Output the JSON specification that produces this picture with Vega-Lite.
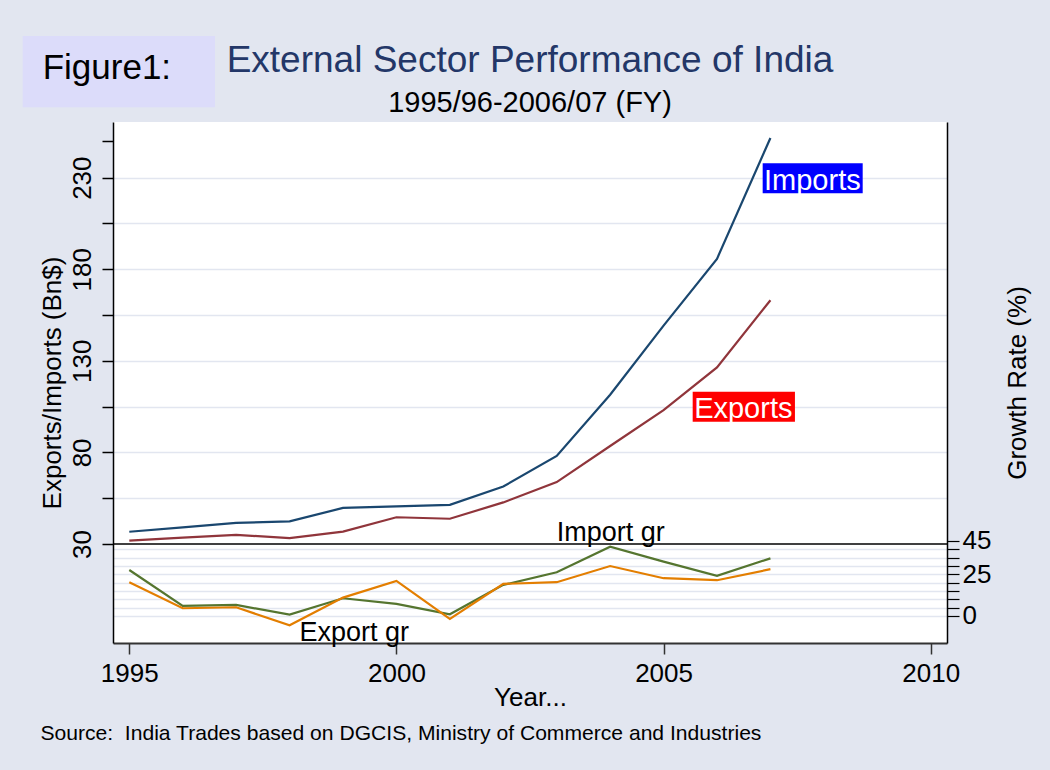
{
  "$schema": "https://vega.github.io/schema/vega-lite/v6.json",
  "width": 834,
  "height": 521,
  "autosize": {"type": "none"},
  "padding": {"left": 113, "top": 122, "right": 103, "bottom": 127},
  "background": "#e2e6f0",
  "data": {
    "values": [
      {"year": 1995, "imports": 36.7, "exports": 31.8, "import_gr": 27.5, "export_gr": 20.2},
      {"year": 1996, "imports": 39.1, "exports": 33.5, "import_gr": 6.0, "export_gr": 4.6},
      {"year": 1997, "imports": 41.5, "exports": 35.0, "import_gr": 6.6, "export_gr": 5.2},
      {"year": 1998, "imports": 42.4, "exports": 33.2, "import_gr": 0.8, "export_gr": -5.6},
      {"year": 1999, "imports": 49.7, "exports": 36.8, "import_gr": 10.6, "export_gr": 11.0},
      {"year": 2000, "imports": 50.5, "exports": 44.6, "import_gr": 7.2, "export_gr": 21.0},
      {"year": 2001, "imports": 51.4, "exports": 43.8, "import_gr": 1.0, "export_gr": -1.8},
      {"year": 2002, "imports": 61.4, "exports": 52.7, "import_gr": 18.6, "export_gr": 19.2},
      {"year": 2003, "imports": 78.1, "exports": 63.8, "import_gr": 26.2, "export_gr": 20.2},
      {"year": 2004, "imports": 111.5, "exports": 83.5, "import_gr": 41.5, "export_gr": 29.9},
      {"year": 2005, "imports": 149.2, "exports": 103.1, "import_gr": 32.5, "export_gr": 22.6},
      {"year": 2006, "imports": 185.7, "exports": 126.4, "import_gr": 24.0, "export_gr": 21.4},
      {"year": 2007, "imports": 251.7, "exports": 163.1, "import_gr": 34.5, "export_gr": 28.0}
    ]
  },
  "layer": [
    {
      "layer": [
        {
          "mark": {"type": "line", "color": "#1a476f", "strokeWidth": 2.2},
          "encoding": {
            "x": {
              "field": "year", "type": "quantitative", "title": "Year...",
              "scale": {"domain": [1994.695, 2010.305], "nice": false, "zero": false},
              "axis": {
                "title": "Year...", "values": [1995, 2000, 2005, 2010], "format": "d", "grid": false,
                "tickSize": 11, "tickColor": "#333333", "tickWidth": 1.5,
                "domainColor": "#333333", "domainWidth": 2,
                "labelFontSize": 26, "labelPadding": 6, "titleFontSize": 26, "titlePadding": -2,
                "labelFlush": false, "labelOverlap": false
              }
            },
            "y": {
              "field": "imports", "type": "quantitative", "title": "Exports/Imports (Bn$)",
              "scale": {"domain": [-24.05, 260.4], "nice": false, "zero": false},
              "axis": {
                "title": "Exports/Imports (Bn$)",
                "values": [30, 55, 80, 105, 130, 155, 180, 205, 230, 250],
                "labelExpr": "datum.value % 50 == 30 ? datum.label : ''",
                "labelAngle": 270, "labelAlign": "center", "labelBaseline": "alphabetic",
                "labelPadding": 12, "labelFontSize": 26,
                "tickSize": 11, "tickWidth": 1.5, "tickColor": "#000000",
                "domainColor": "#000000", "domainWidth": 1.5,
                "grid": true, "gridColor": "#e2e6f0", "gridWidth": 1.5,
                "gridOpacity": {"condition": {"test": "datum.value >= 250 || datum.value <= 30", "value": 0}, "value": 1},
                "titleFontSize": 26, "titlePadding": 4,
                "labelFlush": false, "labelOverlap": false
              }
            }
          }
        },
        {
          "mark": {"type": "line", "color": "#90353b", "strokeWidth": 2.2},
          "encoding": {
            "x": {"field": "year", "type": "quantitative", "title": "Year..."},
            "y": {"field": "exports", "type": "quantitative", "title": "Exports/Imports (Bn$)"}
          }
        },
        {
          "data": {"values": [{}]},
          "mark": {"type": "rule", "color": "#000000", "strokeWidth": 1.5},
          "encoding": {"y": {"datum": 30, "type": "quantitative"}}
        },
        {
          "data": {"values": [{}]},
          "mark": {"type": "rect", "color": "#0000ff"},
          "encoding": {
            "x": {"datum": 2006.855, "type": "quantitative"},
            "x2": {"datum": 2008.727},
            "y": {"datum": 237.86, "type": "quantitative"},
            "y2": {"datum": 221.48}
          }
        },
        {
          "data": {"values": [{}]},
          "mark": {"type": "text", "text": "Imports", "font": "Liberation Sans", "fontSize": 29, "color": "#ffffff", "align": "center", "baseline": "alphabetic"},
          "encoding": {
            "x": {"datum": 2007.785, "type": "quantitative"},
            "y": {"datum": 223.28, "type": "quantitative"}
          }
        },
        {
          "data": {"values": [{}]},
          "mark": {"type": "rect", "color": "#ff0000"},
          "encoding": {
            "x": {"datum": 2005.545, "type": "quantitative"},
            "x2": {"datum": 2007.459},
            "y": {"datum": 113.16, "type": "quantitative"},
            "y2": {"datum": 96.78}
          }
        },
        {
          "data": {"values": [{}]},
          "mark": {"type": "text", "text": "Exports", "font": "Liberation Sans", "fontSize": 29, "color": "#ffffff", "align": "center", "baseline": "alphabetic"},
          "encoding": {
            "x": {"datum": 2006.492, "type": "quantitative"},
            "y": {"datum": 98.96, "type": "quantitative"}
          }
        },
        {
          "data": {"values": [{}]},
          "mark": {"type": "rect", "color": "#dcdcfa"},
          "encoding": {
            "x": {"datum": 1993.005, "type": "quantitative"},
            "x2": {"datum": 1996.604},
            "y": {"datum": 307.37, "type": "quantitative"},
            "y2": {"datum": 268.44}
          }
        },
        {
          "data": {"values": [{}]},
          "mark": {"type": "text", "text": "Figure1:", "font": "Liberation Sans", "fontSize": 35, "color": "#000000", "align": "left", "baseline": "alphabetic"},
          "encoding": {
            "x": {"datum": 1993.379, "type": "quantitative"},
            "y": {"datum": 283.73, "type": "quantitative"}
          }
        },
        {
          "data": {"values": [{}]},
          "mark": {"type": "text", "text": "External Sector Performance of India", "font": "Liberation Sans", "fontSize": 37, "color": "#233768", "align": "center", "baseline": "alphabetic"},
          "encoding": {
            "x": {"datum": 2002.5, "type": "quantitative"},
            "y": {"datum": 287.88, "type": "quantitative"}
          }
        },
        {
          "data": {"values": [{}]},
          "mark": {"type": "text", "text": "1995/96-2006/07 (FY)", "font": "Liberation Sans", "fontSize": 29, "color": "#000000", "align": "center", "baseline": "alphabetic"},
          "encoding": {
            "x": {"datum": 2002.5, "type": "quantitative"},
            "y": {"datum": 266.04, "type": "quantitative"}
          }
        },
        {
          "data": {"values": [{}]},
          "mark": {"type": "text", "text": "Source: \u00a0India Trades based on DGCIS, Ministry of Commerce and Industries", "font": "Liberation Sans", "fontSize": 21.1, "color": "#000000", "align": "left", "baseline": "alphabetic"},
          "encoding": {
            "x": {"datum": 1993.336, "type": "quantitative"},
            "y": {"datum": -77.0, "type": "quantitative"}
          }
        }
      ]
    },
    {
      "layer": [
        {
          "mark": {"type": "line", "color": "#55752f", "strokeWidth": 2.2},
          "encoding": {
            "x": {"field": "year", "type": "quantitative", "title": "Year..."},
            "y": {
              "field": "import_gr", "type": "quantitative", "title": "Growth Rate (%)",
              "scale": {"domain": [-16.2, 295.8], "nice": false, "zero": false},
              "axis": {
                "orient": "right", "title": "Growth Rate (%)",
                "values": [0, 5, 10, 15, 20, 25, 30, 35, 40, 45],
                "labelExpr": "datum.value == 0 || datum.value == 25 || datum.value == 45 ? datum.label : ''",
                "labelAngle": 0, "labelAlign": "left", "labelBaseline": "middle",
                "labelPadding": 3, "labelFontSize": 26,
                "tickSize": 12, "tickColor": "#000000", "tickWidth": 1.2,
                "domainColor": "#000000", "domainWidth": 1.5,
                "grid": true, "gridColor": "#e2e6f0", "gridWidth": 1.5,
                "gridOpacity": {"condition": {"test": "datum.value > 40", "value": 0}, "value": 1},
                "titleAngle": 270, "titleBaseline": "top", "titlePadding": 14, "titleFontSize": 26,
                "labelFlush": false, "labelOverlap": false
              }
            }
          }
        },
        {
          "mark": {"type": "line", "color": "#e37e00", "strokeWidth": 2.2},
          "encoding": {
            "x": {"field": "year", "type": "quantitative", "title": "Year..."},
            "y": {"field": "export_gr", "type": "quantitative", "title": "Growth Rate (%)"}
          }
        },
        {
          "data": {"values": [{}]},
          "mark": {"type": "text", "text": "Import gr", "font": "Liberation Sans", "fontSize": 27, "color": "#000000", "align": "center", "baseline": "alphabetic"},
          "encoding": {
            "x": {"datum": 2004.01, "type": "quantitative"},
            "y": {"datum": 45.09, "type": "quantitative"}
          }
        },
        {
          "data": {"values": [{}]},
          "mark": {"type": "text", "text": "Export gr", "font": "Liberation Sans", "fontSize": 27, "color": "#000000", "align": "center", "baseline": "alphabetic"},
          "encoding": {
            "x": {"datum": 1999.209, "type": "quantitative"},
            "y": {"datum": -14.79, "type": "quantitative"}
          }
        }
      ]
    }
  ],
  "resolve": {"scale": {"y": "independent"}, "axis": {"y": "independent"}},
  "config": {
    "view": {"stroke": null, "fill": "#ffffff"},
    "font": "Liberation Sans",
    "axis": {
      "labelFont": "Liberation Sans",
      "titleFont": "Liberation Sans",
      "labelColor": "#000000",
      "titleColor": "#000000",
      "titleFontWeight": "normal"
    }
  }
}
